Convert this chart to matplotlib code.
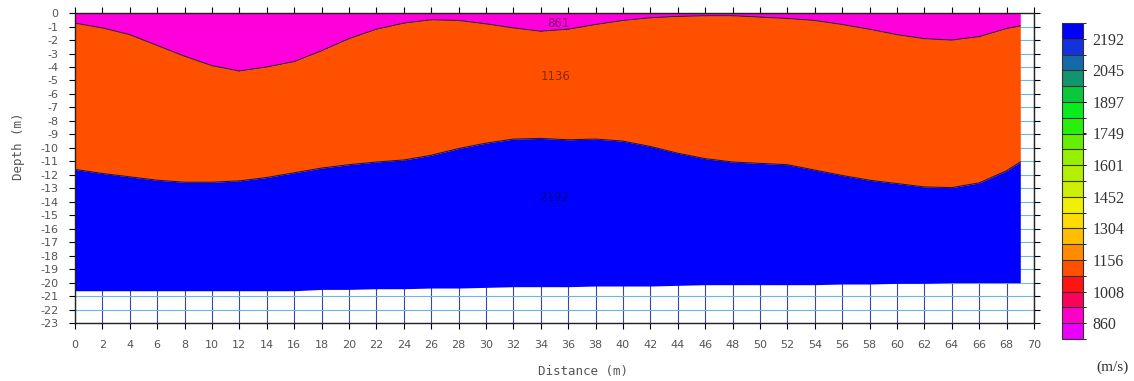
import numpy as np
import matplotlib
matplotlib.use("Agg")
import matplotlib.pyplot as plt
from matplotlib.colors import ListedColormap, BoundaryNorm

# distance (m) along the profile
dist = [0, 2, 4, 6, 8, 10, 12, 14, 16, 18, 20, 22, 24, 26, 28, 30, 32, 34, 36,
        38, 40, 42, 44, 46, 48, 50, 52, 54, 56, 58, 60, 62, 64, 66, 68, 69]

# depth (m) of layer interfaces
top_iface = [0.75, 1.1, 1.6, 2.4, 3.2, 3.9, 4.3, 4.0, 3.6, 2.8, 1.9, 1.2, 0.75, 0.5,
             0.55, 0.8, 1.1, 1.35, 1.2, 0.85, 0.55, 0.35, 0.25, 0.2, 0.2, 0.3, 0.4,
             0.55, 0.85, 1.2, 1.6, 1.9, 2.0, 1.75, 1.15, 0.95]
mid_iface = [11.6, 11.9, 12.15, 12.4, 12.55, 12.55, 12.45, 12.2, 11.85, 11.5, 11.25,
             11.05, 10.9, 10.55, 10.05, 9.65, 9.35, 9.3, 9.4, 9.35, 9.5, 9.9, 10.4,
             10.8, 11.05, 11.15, 11.25, 11.65, 12.05, 12.4, 12.65, 12.9, 12.95, 12.6,
             11.7, 11.05]
model_bottom = [20.6, 20.6, 20.6, 20.6, 20.6, 20.6, 20.6, 20.6, 20.6, 20.5, 20.5,
                20.45, 20.45, 20.4, 20.4, 20.35, 20.3, 20.3, 20.3, 20.25, 20.25, 20.25,
                20.2, 20.15, 20.15, 20.15, 20.15, 20.15, 20.1, 20.1, 20.05, 20.05, 20.0,
                20.0, 20.0, 20.0]

layer_vel = ["861", "1136", "2192"]
layer_cols = ["#ff00dc", "#ff5000", "#0000ff"]

# colour scale
vel_ticks = [860, 1008, 1156, 1304, 1452, 1601, 1749, 1897, 2045, 2192]
scale_cols = ["#eb00ff", "#ff00c8", "#ff005a", "#ff1414", "#ff5000", "#ff8c00",
              "#ffbe00", "#ffdc00", "#f0f000", "#cdf000", "#b4f000", "#96f000",
              "#64f000", "#28f00a", "#0aeb1e", "#0ac83c", "#0f966e", "#1469aa",
              "#1432dc", "#0000ff"]

x = np.array(dist)
z0 = -np.array(top_iface)
z1 = -np.array(mid_iface)
z2 = -np.array(model_bottom)

fig = plt.figure(figsize=(11.34, 3.81), dpi=100)
ax = fig.add_axes([0.0661, 0.152, 0.8457, 0.8137])

# grid under the model
for gx in range(0, 71, 2):
    ax.axvline(gx, color="#3848a0", lw=0.8, zorder=0)
for gy in range(-23, 1):
    ax.axhline(gy, color="#70b4e4", lw=0.8, zorder=0)

ax.fill_between(x, 0, z0, color=layer_cols[0], lw=0, zorder=2)
ax.fill_between(x, z0, z1, color=layer_cols[1], lw=0, zorder=2)
ax.fill_between(x, z1, z2, color=layer_cols[2], lw=0, zorder=2)
ax.plot(x, z0, color="#3a1a30", lw=0.8, zorder=3)
ax.plot(x, z1, color="#2a1a30", lw=0.8, zorder=3)

ax.text(35.3, -0.8, layer_vel[0], ha="center", va="center", fontsize=8.5,
        color="#7a0070", zorder=4)
ax.text(35.1, -4.7, layer_vel[1], ha="center", va="center", fontsize=8.5,
        color="#8a2a00", zorder=4)
ax.text(35.0, -13.7, layer_vel[2], ha="center", va="center", fontsize=8.5,
        color="#00008a", zorder=4)

ax.set_xlim(0, 70)
ax.set_ylim(-23, 0)
ax.set_xticks(range(0, 71, 2))
ax.set_yticks(range(-23, 1))
ax.set_yticklabels([str(v) for v in range(-23, 1)])
ax.tick_params(axis="both", labelsize=8, labelcolor="#555555", length=4,
               width=0.8, direction="out")
ax.tick_params(axis="x", pad=8)
ax.tick_params(axis="y", pad=8)
ax.tick_params(top=True, right=True, labeltop=False, labelright=False)
for s in ax.spines.values():
    s.set_color("#222222")
    s.set_linewidth(1)

fig.text(0.514, 0.025, "Distance (m)", family="DejaVu Sans Mono", fontsize=9,
         color="#555555", ha="center", va="center")
fig.text(0.016, 0.615, "Depth (m)", family="DejaVu Sans Mono", fontsize=9,
         color="#555555", ha="center", va="center", rotation=90)

# colour bar
bounds = np.linspace(786, 2266, len(scale_cols) + 1)
cmap = ListedColormap(scale_cols)
norm = BoundaryNorm(bounds, cmap.N)
cax = fig.add_axes([0.9365, 0.1102, 0.0185, 0.8294])
sm = matplotlib.cm.ScalarMappable(norm=norm, cmap=cmap)
cb = fig.colorbar(sm, cax=cax, boundaries=bounds, drawedges=True)
cb.set_ticks(vel_ticks)
cb.set_ticklabels([str(v) for v in vel_ticks])
cb.outline.set_edgecolor("#333333")
cb.outline.set_linewidth(0.8)
cb.dividers.set_color("#333333")
cb.dividers.set_linewidth(0.8)
cax.tick_params(labelsize=11.5, length=2, width=0.6, pad=5, labelcolor="#333333")
for lab in cax.get_yticklabels():
    lab.set_family("Liberation Serif")
fig.text(0.981, 0.037, "(m/s)", family="Liberation Serif", fontsize=11,
         color="#333333", ha="center", va="center")

fig.savefig("out.png", dpi=100)
